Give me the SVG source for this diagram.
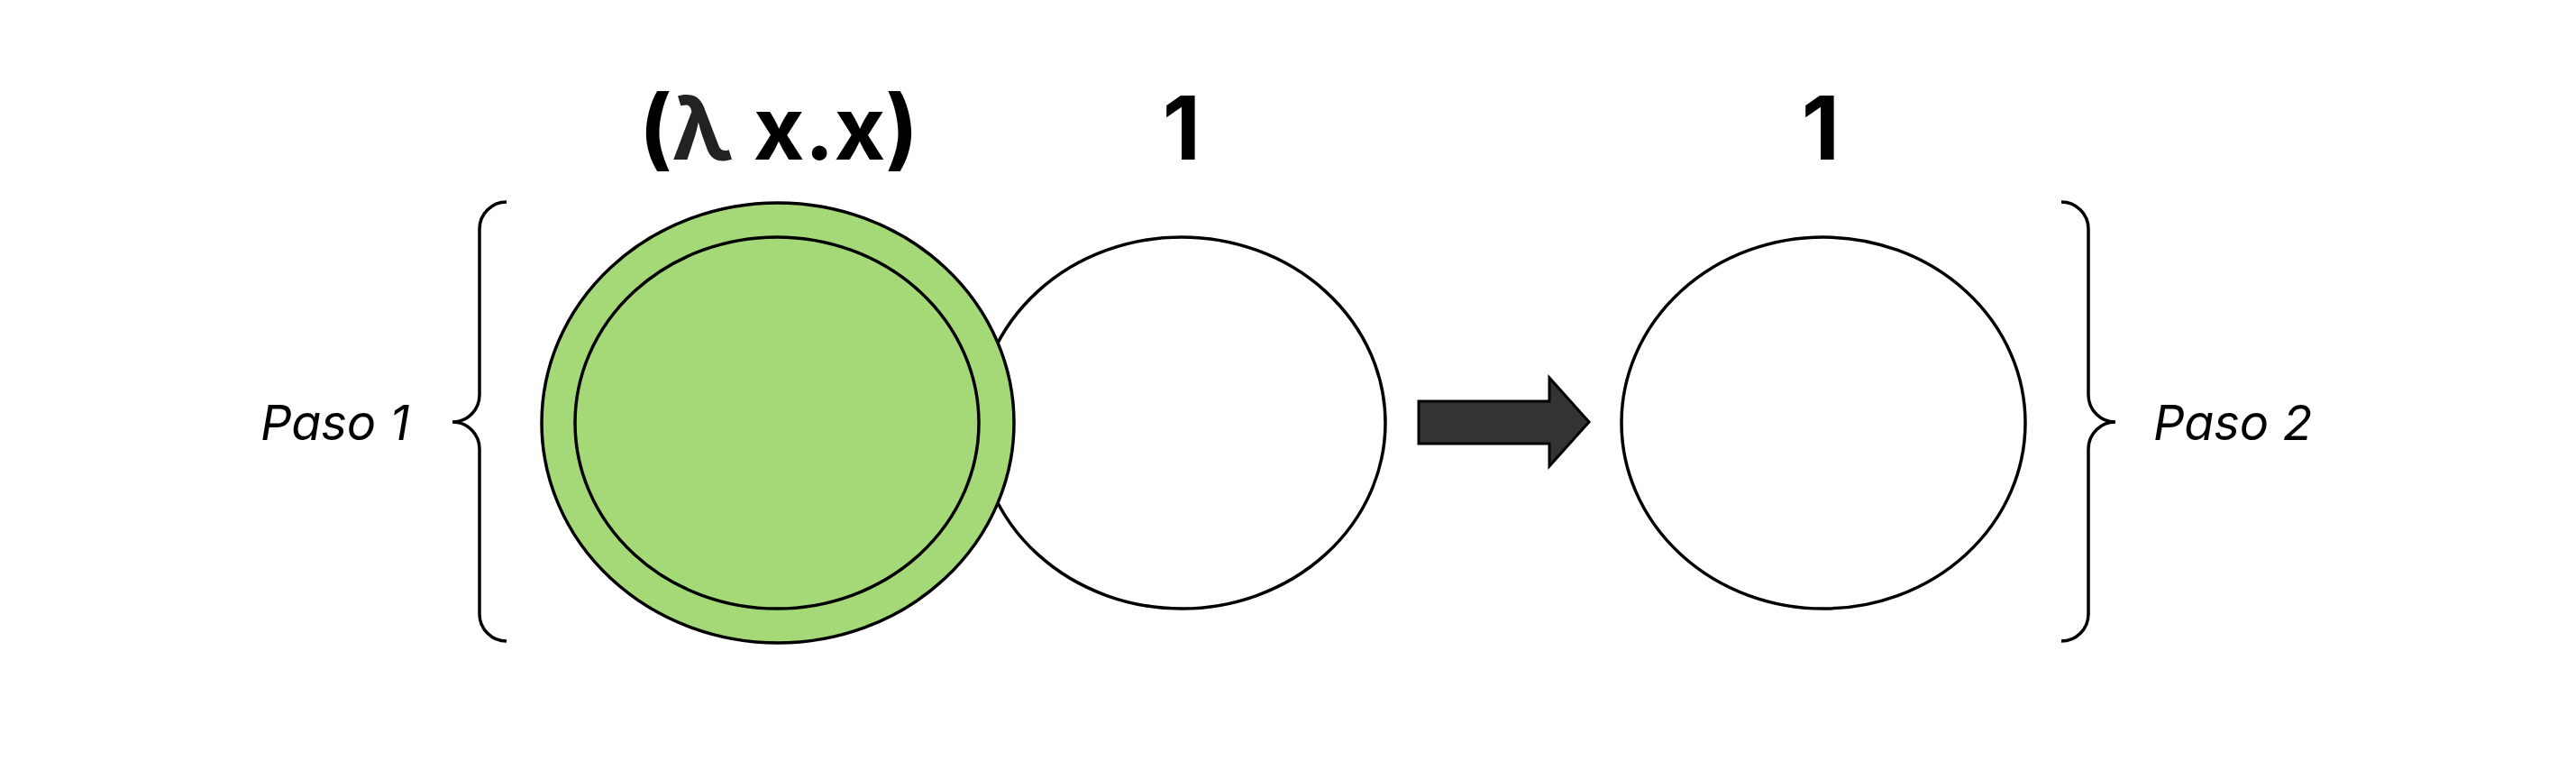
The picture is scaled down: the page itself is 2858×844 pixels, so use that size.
<svg xmlns="http://www.w3.org/2000/svg" width="2858" height="844" viewBox="0 0 2858 844">
<style>
.node{stroke:#000;stroke-width:3.5}
.white{fill:#fff}
.green{fill:#a5d978}
.brace{fill:none;stroke:#000;stroke-width:3.5}
.title{font-family:Inter,"Liberation Sans",sans-serif;font-weight:700;font-size:98px;fill:#000;text-anchor:middle}
.label{font-family:Inter,"Liberation Sans",sans-serif;font-style:italic;font-size:54px;fill:#000}
</style>
<rect width="2858" height="844" fill="#fff"/>
<g id="node-one">
<ellipse class="node white" cx="1311" cy="469" rx="226" ry="206"/>
<text class="title" x="1311" y="177">1</text>
</g>
<g id="node-lambda">
<ellipse class="node green" cx="863" cy="469" rx="262" ry="244"/>
<ellipse class="node green" cx="862" cy="469" rx="224" ry="206"/>
<text class="title" x="864" y="177">(<tspan fill="#222">λ</tspan> x.x)</text>
</g>
<g id="node-result">
<ellipse class="node white" cx="2023" cy="469" rx="224" ry="206"/>
<text class="title" x="2020" y="177">1</text>
</g>
<g id="brace-step1">
<path class="brace" d="M562,224 A30,30 0 0 0 532,254 L532,438 A30,30 0 0 1 502,468 A30,30 0 0 1 532,498 L532,681 A30,30 0 0 0 562,711"/>
<text class="label" x="289" y="488">Paso 1</text>
</g>
<g id="brace-step2">
<path class="brace" d="M2287,224 A30,30 0 0 1 2317,254 L2317,438 A30,30 0 0 0 2347,468 A30,30 0 0 0 2317,498 L2317,681 A30,30 0 0 1 2287,711"/>
<text class="label" x="2389" y="488">Paso 2</text>
</g>
<g id="connectors">
<path d="M1574,445 L1719,445 L1719,419 L1763,468 L1719,517 L1719,492 L1574,492 Z" fill="#333" stroke="#000" stroke-width="3"/>
</g>
</svg>
